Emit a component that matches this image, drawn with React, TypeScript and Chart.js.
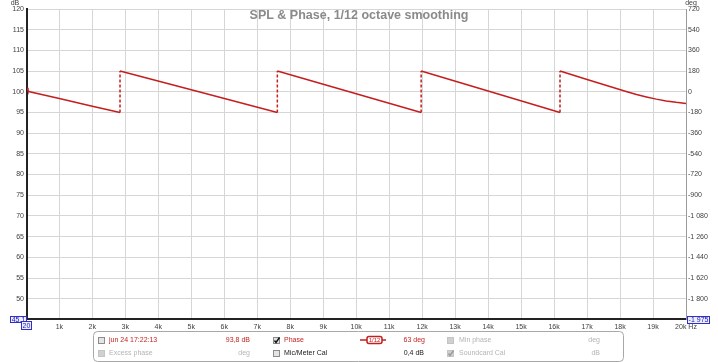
import React, { useEffect, useRef } from 'react';
import { Chart, registerables } from 'chart.js';

Chart.register(...registerables);

// ---- data ----
const xTickValues = [1000, 2000, 3000, 4000, 5000, 6000, 7000, 8000, 9000, 10000, 11000, 12000, 13000, 14000, 15000, 16000, 17000, 18000, 19000, 20000];
const dbTickValues = [50, 55, 60, 65, 70, 75, 80, 85, 90, 95, 100, 105, 110, 115, 120];
const degTickValues = [720, 540, 360, 180, 0, -180, -360, -540, -720, -900, -1080, -1260, -1440, -1620, -1800];

const phaseFreq = [20, 50, 100, 1000, 2000, 2840, 2840, 5000, 7610, 7610, 10000, 11970, 11970, 14000, 16180, 16180, 17000, 18210, 18500, 18800, 19100, 19400, 19700, 20000];
const phaseDeg = [36, 10, 0, -59, -125, -180, 180, 17, -180, 180, -17, -180, 180, 6, -180, 180, 107, 0, -24, -45, -64, -80, -92, -101];

const titleText = 'SPL & Phase, 1/12 octave smoothing';

const FONT = "'Liberation Sans', Arial, sans-serif";
const RED = '#c41e1e';

function fmtThousands(v: number): string {
  const neg = v < 0;
  const s = String(Math.abs(v));
  const out = s.length > 3 ? s.slice(0, s.length - 3) + ' ' + s.slice(s.length - 3) : s;
  return (neg ? '-' : '') + out;
}

function checkbox(ctx: CanvasRenderingContext2D, x: number, y: number, checked: boolean, disabled: boolean) {
  ctx.save();
  ctx.fillStyle = disabled ? '#d0d0d0' : '#e4e4e4';
  ctx.fillRect(x, y, 7, 7);
  ctx.strokeStyle = disabled ? '#c4c4c4' : '#8c8c8c';
  ctx.lineWidth = 1;
  ctx.strokeRect(x + 0.5, y + 0.5, 6, 6);
  if (checked) {
    ctx.strokeStyle = disabled ? '#9a9a9a' : '#111';
    ctx.lineWidth = 1.4;
    ctx.beginPath();
    ctx.moveTo(x + 1.5, y + 3.5);
    ctx.lineTo(x + 3, y + 5.5);
    ctx.lineTo(x + 6.5, y + 0.5);
    ctx.stroke();
  }
  ctx.restore();
}

function boxLabel(ctx: CanvasRenderingContext2D, text: string, x: number, y: number, w: number, h: number) {
  ctx.save();
  ctx.fillStyle = '#eeeeff';
  ctx.fillRect(x, y, w, h);
  ctx.strokeStyle = '#3030c8';
  ctx.lineWidth = 1;
  ctx.strokeRect(x + 0.5, y + 0.5, w - 1, h - 1);
  ctx.fillStyle = '#2020b0';
  ctx.font = `7px ${FONT}`;
  ctx.textAlign = 'center';
  ctx.textBaseline = 'middle';
  ctx.fillText(text, x + w / 2, y + h / 2 + 0.5);
  ctx.restore();
}

function roundRect(ctx: CanvasRenderingContext2D, x: number, y: number, w: number, h: number, r: number) {
  ctx.beginPath();
  ctx.moveTo(x + r, y);
  ctx.lineTo(x + w - r, y);
  ctx.quadraticCurveTo(x + w, y, x + w, y + r);
  ctx.lineTo(x + w, y + h - r);
  ctx.quadraticCurveTo(x + w, y + h, x + w - r, y + h);
  ctx.lineTo(x + r, y + h);
  ctx.quadraticCurveTo(x, y + h, x, y + h - r);
  ctx.lineTo(x, y + r);
  ctx.quadraticCurveTo(x, y, x + r, y);
  ctx.closePath();
}

const decorPlugin = {
  id: 'rewDecor',
  afterDraw(chart: any) {
    const ctx: CanvasRenderingContext2D = chart.ctx;
    ctx.save();
    // title
    ctx.font = `bold 12.5px ${FONT}`;
    ctx.fillStyle = '#8a8a8a';
    ctx.textAlign = 'center';
    ctx.textBaseline = 'middle';
    ctx.fillText(titleText, 359, 15.5);

    // unit labels
    ctx.font = `7px ${FONT}`;
    ctx.fillStyle = '#404040';
    ctx.fillText('dB', 15, 3.5);
    ctx.fillText('deg', 691, 3.5);

    // boxed limits
    boxLabel(ctx, '45,1', 10, 316, 17, 7);
    boxLabel(ctx, '20', 21, 321, 11, 9);
    boxLabel(ctx, '-1 975', 687, 316, 23, 8);

    // legend panel
    ctx.fillStyle = '#ffffff';
    roundRect(ctx, 93.5, 331.5, 530, 30, 4);
    ctx.fill();
    ctx.strokeStyle = '#a8a8a8';
    ctx.lineWidth = 1;
    ctx.stroke();

    const r1 = 340;
    const r2 = 353.5;
    checkbox(ctx, 98, 337, false, false);
    checkbox(ctx, 273, 337, true, false);
    checkbox(ctx, 447, 337, false, true);
    checkbox(ctx, 98, 350, false, true);
    checkbox(ctx, 273, 350, false, false);
    checkbox(ctx, 447, 350, true, true);

    ctx.font = `7px ${FONT}`;
    ctx.textBaseline = 'middle';
    ctx.textAlign = 'left';
    ctx.fillStyle = RED;
    ctx.fillText('jun 24 17:22:13', 109, r1);
    ctx.fillText('Phase', 284, r1);
    ctx.fillStyle = '#b4b4b4';
    ctx.fillText('Min phase', 459, r1);
    ctx.fillText('Excess phase', 109, r2);
    ctx.fillText('Soundcard Cal', 459, r2);
    ctx.fillStyle = '#202020';
    ctx.fillText('Mic/Meter Cal', 284, r2);

    ctx.textAlign = 'right';
    ctx.fillStyle = RED;
    ctx.fillText('93,8 dB', 250, r1);
    ctx.fillText('63 deg', 425, r1);
    ctx.fillStyle = '#b4b4b4';
    ctx.fillText('deg', 600, r1);
    ctx.fillText('deg', 250, r2);
    ctx.fillText('dB', 600, r2);
    ctx.fillStyle = '#202020';
    ctx.fillText('0,4 dB', 424, r2);

    // line symbol with smoothing badge
    ctx.strokeStyle = RED;
    ctx.lineWidth = 1.5;
    ctx.beginPath();
    ctx.moveTo(360, r1);
    ctx.lineTo(386, r1);
    ctx.stroke();
    ctx.fillStyle = '#ffffff';
    roundRect(ctx, 367, 336.5, 15, 7, 2);
    ctx.fill();
    ctx.stroke();
    ctx.fillStyle = RED;
    ctx.font = `6px ${FONT}`;
    ctx.textAlign = 'center';
    ctx.fillText('1/12', 374.5, r1 + 0.3);
    ctx.restore();
  },
};

export default function App() {
  const ref = useRef<HTMLCanvasElement>(null);
  useEffect(() => {
    document.body.style.margin = '0';
    const canvas = ref.current!;
    const gridColor = '#d6d6d6';
    const tickFont = { family: FONT, size: 7 };
    const chart = new Chart(canvas, {
      type: 'line',
      data: {
        datasets: [
          {
            label: 'Phase',
            data: phaseFreq.map((f, i) => ({ x: f, y: phaseDeg[i] })),
            yAxisID: 'deg',
            borderColor: RED,
            borderWidth: 1.5,
            pointRadius: 0,
            tension: 0,
            segment: {
              borderDash: (c: any) => (c.p0.parsed.x === c.p1.parsed.x ? [3, 2] : undefined),
            },
          },
        ],
      },
      plugins: [decorPlugin],
      options: {
        responsive: false,
        animation: false,
        devicePixelRatio: 1,
        layout: { padding: { top: 9, left: 0, right: 0, bottom: 0 } },
        plugins: { legend: { display: false }, tooltip: { enabled: false }, title: { display: false } },
        scales: {
          x: {
            type: 'linear',
            position: 'bottom',
            min: 20,
            max: 20000,
            afterBuildTicks: (s: any) => {
              s.ticks = xTickValues.map((v) => ({ value: v }));
            },
            afterFit: (s: any) => {
              s.height = 43;
            },
            ticks: {
              font: tickFont,
              color: '#404040',
              padding: 4,
              maxRotation: 0,
              autoSkip: false,
              callback: (v: any) => (v === 20000 ? '20k Hz' : Number(v) / 1000 + 'k'),
            },
            grid: { color: gridColor, drawTicks: false, tickLength: 0 },
            border: { color: '#222222', width: 2 },
          },
          db: {
            type: 'linear',
            position: 'left',
            min: 45.1,
            max: 120,
            afterBuildTicks: (s: any) => {
              s.ticks = dbTickValues.map((v) => ({ value: v }));
            },
            afterFit: (s: any) => {
              s.width = 27;
            },
            ticks: { font: tickFont, color: '#404040', padding: 3, autoSkip: false },
            grid: { color: gridColor, drawTicks: false, tickLength: 0 },
            border: { color: '#222222', width: 2 },
          },
          deg: {
            type: 'linear',
            position: 'right',
            min: (45.1 - 100) * 36,
            max: 720,
            afterBuildTicks: (s: any) => {
              s.ticks = degTickValues.map((v) => ({ value: v }));
            },
            afterFit: (s: any) => {
              s.width = 32;
            },
            ticks: {
              font: tickFont,
              color: '#404040',
              padding: 2,
              autoSkip: false,
              callback: (v: any) => fmtThousands(Number(v)),
            },
            grid: { drawOnChartArea: false, drawTicks: false, tickLength: 0 },
            border: { color: '#9a9a9a', width: 1 },
          },
        },
      },
    } as any);
    return () => chart.destroy();
  }, []);
  return (
    <div style={{ position: 'absolute', left: 0, top: 0, width: 718, height: 362, background: '#ffffff' }}>
      <canvas ref={ref} width={718} height={362} style={{ display: 'block', width: 718, height: 362 }} />
    </div>
  );
}
